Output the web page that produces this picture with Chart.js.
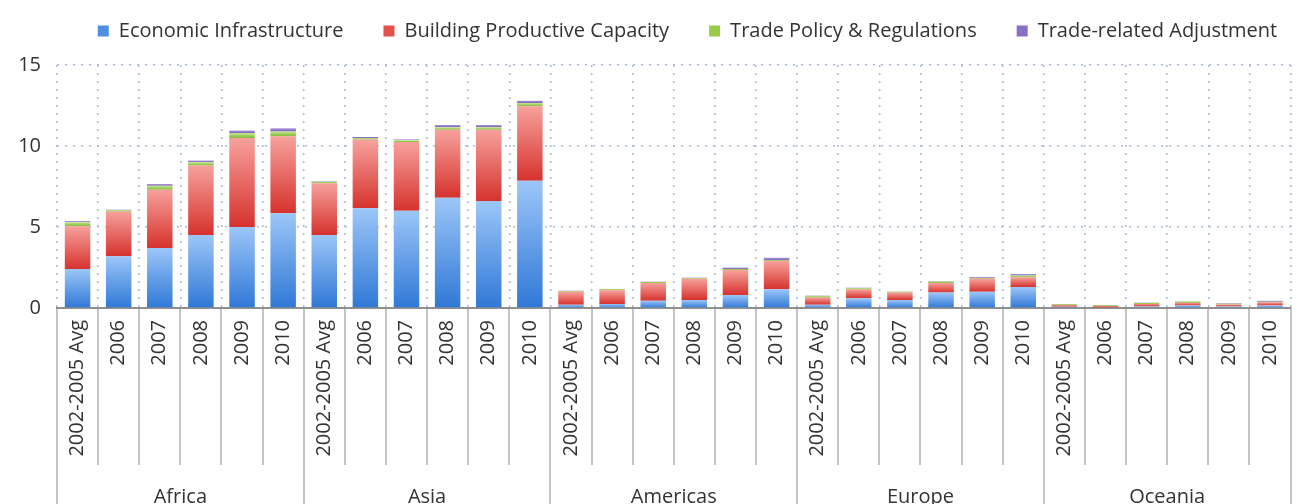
<!DOCTYPE html>
<html>
<head>
<meta charset="utf-8">
<script src="https://cdn.jsdelivr.net/npm/chart.js@4/dist/chart.umd.min.js"></script>
<style>
html, body { margin: 0; padding: 0; background: #fff; }
#wrap { width: 1306px; height: 504px; position: relative; }
</style>
</head>
<body>
<div id="wrap"><canvas id="aidChart"></canvas></div>
<script>
// regions along the bottom, each one has the same 6 periods
const regions = ['Africa', 'Asia', 'Americas', 'Europe', 'Oceania'];
const periods = ['2002-2005 Avg', '2006', '2007', '2008', '2009', '2010'];
const yTicks = [0, 5, 10, 15];

// values, one row per region
const economicInfrastructure = [
    2.4, 3.2, 3.7, 4.5, 5.0, 5.85,
    4.5, 6.15, 6.0, 6.8, 6.6, 7.85,
    0.2, 0.25, 0.45, 0.5, 0.8, 1.15,
    0.2, 0.6, 0.5, 0.95, 1.0, 1.3,
    0.08, 0.05, 0.1, 0.15, 0.1, 0.15
];
const buildingCapacity = [
    2.65, 2.75, 3.6, 4.3, 5.5, 4.75,
    3.2, 4.25, 4.25, 4.2, 4.4, 4.6,
    0.8, 0.85, 1.1, 1.3, 1.55, 1.75,
    0.45, 0.55, 0.45, 0.6, 0.8, 0.6,
    0.1, 0.08, 0.15, 0.18, 0.12, 0.2
];
const tradePolicy = [
    0.25, 0.1, 0.25, 0.2, 0.3, 0.3,
    0.1, 0.1, 0.1, 0.15, 0.15, 0.2,
    0.05, 0.05, 0.05, 0.05, 0.05, 0.05,
    0.1, 0.08, 0.07, 0.08, 0.05, 0.1,
    0.05, 0.04, 0.06, 0.08, 0.05, 0.03
];
const tradeAdjustment = [
    0.05, 0.02, 0.1, 0.1, 0.15, 0.2,
    0.03, 0.05, 0.05, 0.15, 0.15, 0.15,
    0.02, 0.02, 0.02, 0.02, 0.1, 0.15,
    0.02, 0.02, 0.02, 0.03, 0.05, 0.1,
    0.02, 0.01, 0.02, 0.02, 0.02, 0.07
];

const seriesList = [economicInfrastructure, buildingCapacity, tradePolicy, tradeAdjustment];
const legendColors = ['#4f8fe3', '#e2514c', '#98cc48', '#8a6fc6'];

var labels = [];
regions.forEach(function(r){
    periods.forEach(function(p){ labels.push(p); });
});

// each stacked piece gets its own light-to-dark gradient
function segmentFill(light, mid, dark){
    return function(c){
        var chart = c.chart;
        var y = chart.scales.y;
        if (c.type !== 'data' || !chart.chartArea || !y) return mid;
        var base = 0;
        for (var d = 0; d < c.datasetIndex; d++) base += seriesList[d][c.dataIndex];
        var top = base + seriesList[c.datasetIndex][c.dataIndex];
        var y0 = y.getPixelForValue(top), y1 = y.getPixelForValue(base);
        if (!isFinite(y0) || !isFinite(y1) || y1 - y0 < 1) return mid;
        var g = chart.ctx.createLinearGradient(0, y0, 0, y1);
        g.addColorStop(0, light);
        g.addColorStop(1, dark);
        return g;
    };
}

// a bit of extra room under the legend, and nudge it right like the original
const legendGap = {
    id: 'legendGap',
    beforeInit: function(chart){
        var fit = chart.legend.fit;
        chart.legend.fit = function(){
            fit.bind(chart.legend)();
            this.height += 14;
        };
    },
    afterLayout: function(chart){
        chart.legend.left += 35;
        chart.legend.right += 35;
    }
};

const groupLines = {
    id: 'groupLines',
    afterDraw: function(chart){
        var x = chart.scales.x, ctx = chart.ctx, bottom = chart.chartArea.bottom;
        var step = x.getPixelForValue(1) - x.getPixelForValue(0);
        ctx.save();
        ctx.strokeStyle = '#c4c4c4';
        ctx.lineWidth = 2;
        for (var i = 0; i <= labels.length; i++) {
            var px = Math.round(x.getPixelForValue(0) - step / 2 + i * step);
            var end = (i % periods.length === 0) ? chart.height : bottom + 157;
            ctx.beginPath();
            ctx.moveTo(px, bottom + 1);
            ctx.lineTo(px, end);
            ctx.stroke();
        }
        ctx.fillStyle = '#333';
        ctx.font = '20px "Open Sans"';
        ctx.textAlign = 'center';
        ctx.textBaseline = 'middle';
        regions.forEach(function(r, gi){
            var a = x.getPixelForValue(gi * periods.length);
            var b = x.getPixelForValue(gi * periods.length + periods.length - 1);
            ctx.fillText(r, (a + b) / 2, bottom + 189);
        });
        ctx.restore();
    }
};

Chart.defaults.font.family = '"Open Sans", sans-serif';
Chart.defaults.color = '#333';

new Chart(document.getElementById('aidChart'), {
    type: 'bar',
    data: {
        labels: labels,
        datasets: [
            {
                label: 'Economic Infrastructure',
                data: economicInfrastructure,
                backgroundColor: segmentFill('#9cc6f8', '#4f8fe3', '#2f78d6')
            },
            {
                label: 'Building Productive Capacity',
                data: buildingCapacity,
                backgroundColor: segmentFill('#f7a19c', '#e2514c', '#d6322d')
            },
            {
                label: 'Trade Policy & Regulations',
                data: tradePolicy,
                backgroundColor: segmentFill('#c6e98d', '#98cc48', '#80b838')
            },
            {
                label: 'Trade-related Adjustment',
                data: tradeAdjustment,
                backgroundColor: segmentFill('#b29ee0', '#8a6fc6', '#7558b4')
            }
        ]
    },
    options: {
        responsive: true,
        maintainAspectRatio: false,
        animation: false,
        layout: { padding: { top: -19, right: 1, left: 0, bottom: 0 } },
        datasets: {
            bar: { categoryPercentage: 1.0, barPercentage: 0.62 }
        },
        plugins: {
            legend: {
                position: 'top',
                labels: {
                    boxWidth: 11,
                    boxHeight: 11,
                    padding: 40,
                    color: '#333',
                    font: { size: 20 },
                    generateLabels: function(chart){
                        var items = Chart.defaults.plugins.legend.labels.generateLabels(chart);
                        items.forEach(function(it, i){
                            it.fillStyle = legendColors[i];
                            it.strokeStyle = legendColors[i];
                            it.lineWidth = 0;
                        });
                        return items;
                    }
                }
            },
            tooltip: { enabled: false }
        },
        scales: {
            x: {
                stacked: true,
                grid: {
                    offset: true,
                    color: '#a9bbd3',
                    lineWidth: 1.5,
                    drawTicks: false
                },
                border: { display: true, color: '#8f8f8f', width: 2, dash: [2, 6] },
                ticks: {
                    minRotation: 90,
                    maxRotation: 90,
                    autoSkip: false,
                    padding: 12,
                    color: '#333',
                    font: { size: 20 }
                },
                afterFit: function(scale){ scale.height = 196; }
            },
            y: {
                stacked: true,
                min: 0,
                max: 15,
                afterBuildTicks: function(scale){
                    scale.ticks = yTicks.map(function(v){ return { value: v }; });
                },
                grid: {
                    color: '#a9bbd3',
                    lineWidth: 1.5,
                    drawTicks: false
                },
                border: { display: false, dash: [2, 6] },
                ticks: {
                    padding: 16,
                    color: '#333',
                    font: { size: 20 }
                },
                afterFit: function(scale){ scale.width = 57; }
            }
        }
    },
    plugins: [legendGap, groupLines]
});
</script>
</body>
</html>
